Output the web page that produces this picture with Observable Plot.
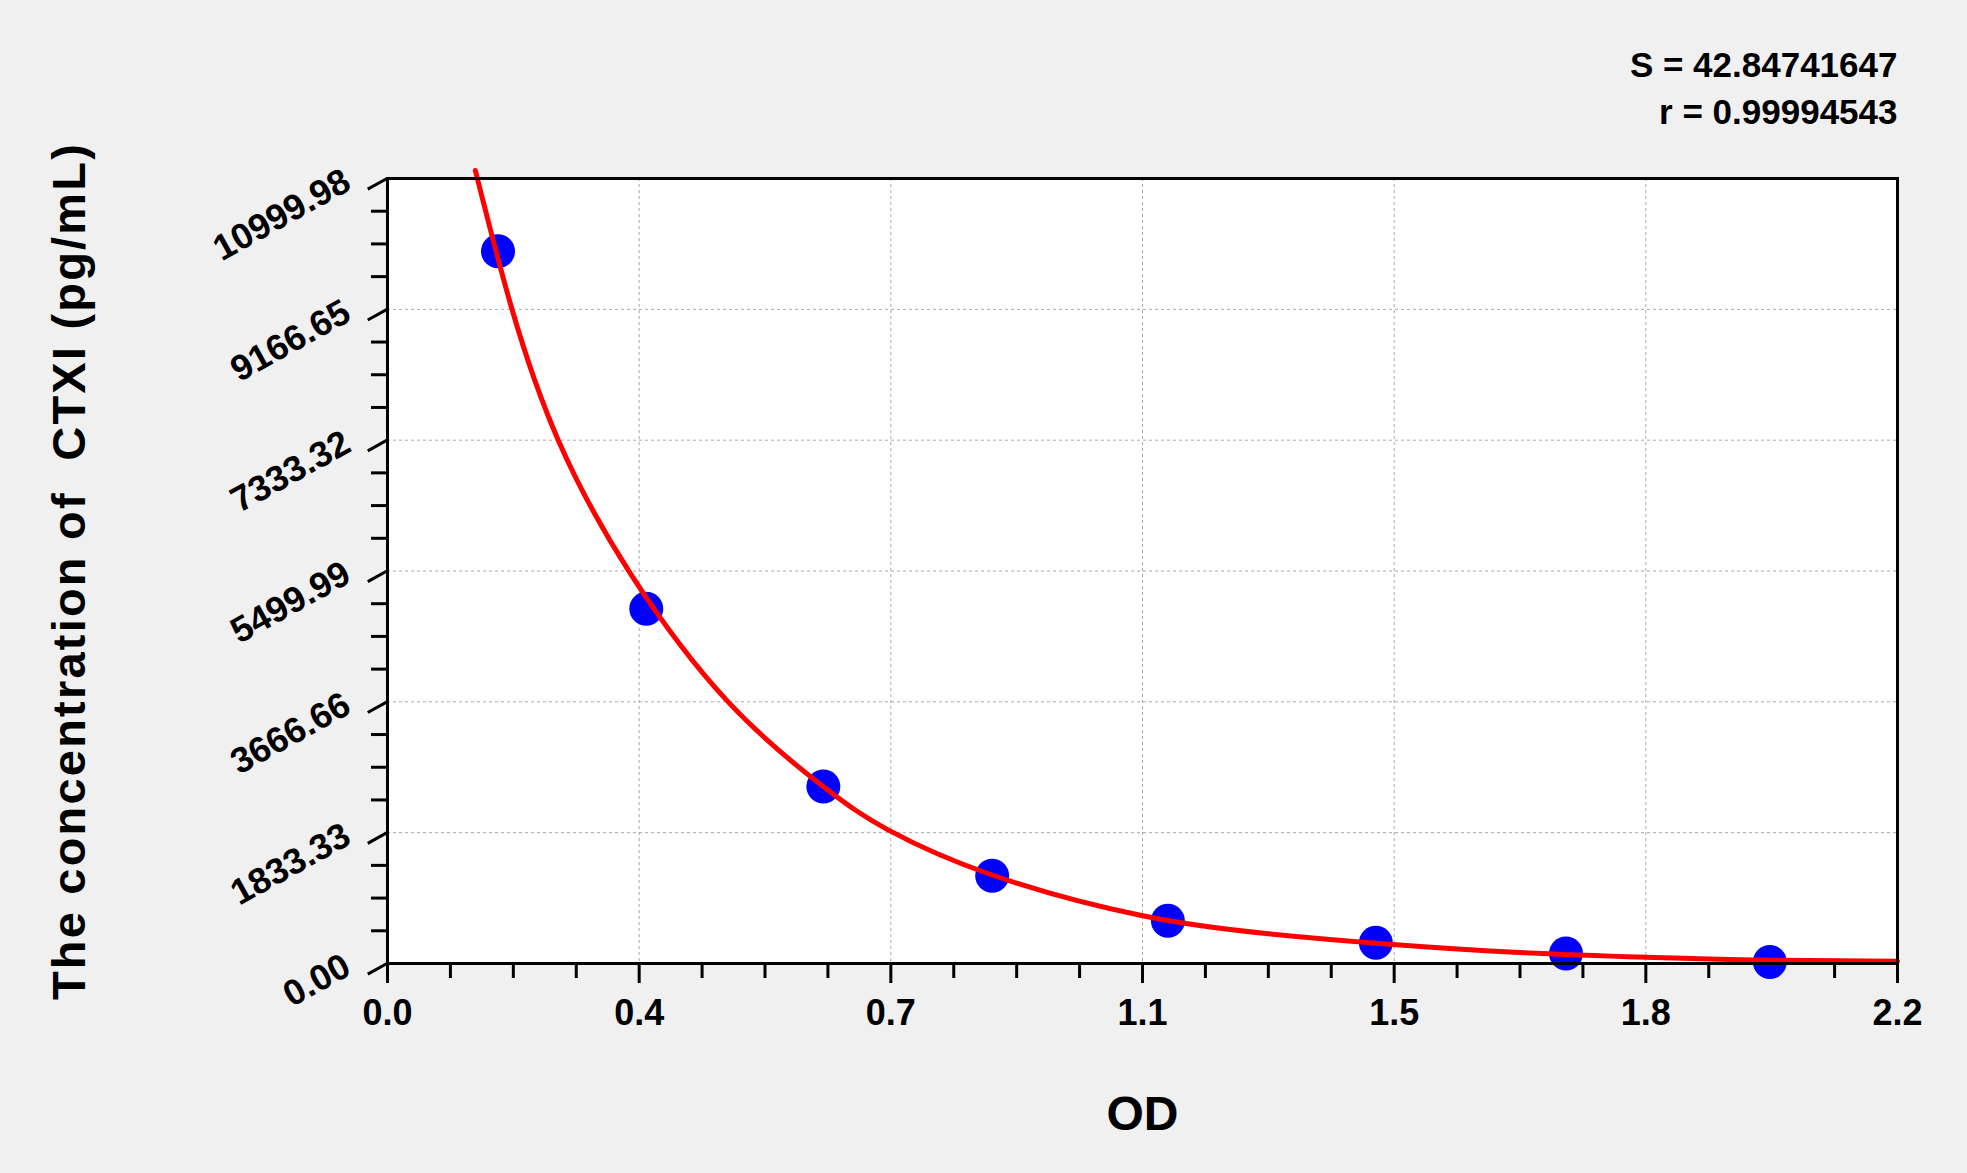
<!DOCTYPE html>
<html>
<head>
<meta charset="utf-8">
<script src="https://cdn.jsdelivr.net/npm/d3@7"></script>
<script src="https://cdn.jsdelivr.net/npm/@observablehq/plot@0.6"></script>
<style>
  html, body { margin: 0; padding: 0; background: #f0f0f0; }
  #chart { width: 1967px; height: 1173px; }
  .ytitle text { letter-spacing: 2.2px; }
</style>
</head>
<body>
<div id="chart"></div>
<script>
// Standard points (OD vs concentration)
const pointOD   = [0.161, 0.377, 0.635, 0.881, 1.137, 1.440, 1.717, 2.014];
const pointConc = [9980, 4970, 2480, 1230, 600, 290, 140, 20];

// Fitted curve
const curveOD   = [0.128, 0.1816, 0.2496, 0.354, 0.4973, 0.6348, 0.728, 0.881, 1.0985, 1.284, 1.465, 1.641, 1.833, 2.014, 2.2];
const curveConc = [11112, 9160, 7315, 5464, 3656, 2480, 1880, 1240, 672, 416, 266, 158, 88, 45, 30];

// Axis ticks and labels
const xTicks      = [0, 0.36667, 0.73333, 1.1, 1.46667, 1.83333, 2.2];
const xTickLabels = ["0.0", "0.4", "0.7", "1.1", "1.5", "1.8", "2.2"];
const yTicks      = [0, 1833.33, 3666.66, 5499.99, 7333.32, 9166.65, 10999.98];
const yTickLabels = ["0.00", "1833.33", "3666.66", "5499.99", "7333.32", "9166.65", "10999.98"];

const statsLines = ["S = 42.84741647", "r = 0.99994543"];
const xTitle = "OD";
const yTitle = "The concentration of  CTXI (pg/mL)";

const points = pointOD.map((x, i) => ({x, y: pointConc[i]}));
const curve = curveOD.map((x, i) => ({x, y: curveConc[i]}));

const xMinor = d3.range(0, 24).map(i => i * 2.2 / 24).filter((d, i) => i % 4 !== 0);
const yMinor = d3.range(0, 24).map(i => i * 10999.98 / 24).filter((d, i) => i % 4 !== 0);

const xLabelMap = new Map(xTicks.map((d, i) => [d, xTickLabels[i]]));
const yLabelMap = new Map(yTicks.map((d, i) => [d, yTickLabels[i]]));

const font = "'Liberation Sans', Arial, sans-serif";

const chart = Plot.plot({
  width: 1967,
  height: 1173,
  marginLeft: 387,
  marginRight: 70,
  marginTop: 178,
  marginBottom: 210,
  style: {background: "#f0f0f0", fontFamily: font, overflow: "visible"},
  x: {domain: [0, 2.2]},
  y: {domain: [0, 10999.98]},
  marks: [
    Plot.frame({fill: "white", stroke: null}),
    Plot.gridX(xTicks, {stroke: "#a8a8a8", strokeOpacity: 1, strokeWidth: 1, strokeDasharray: "3,3"}),
    Plot.gridY(yTicks, {stroke: "#a8a8a8", strokeOpacity: 1, strokeWidth: 1, strokeDasharray: "3,3"}),
    Plot.axisX(xMinor, {tickSize: 15, strokeWidth: 3, stroke: "black", tickFormat: () => "", label: null}),
    Plot.axisY(yMinor, {tickSize: 16, strokeWidth: 3, stroke: "black", tickFormat: () => "", label: null}),
    Plot.axisX(xTicks, {tickSize: 20, tickPadding: 16, strokeWidth: 3, stroke: "black", fill: "black",
      tickFormat: d => xLabelMap.get(d), fontSize: 36, fontWeight: "bold", label: null}),
    Plot.axisY(yTicks, {tickSize: 22, tickPadding: 18, strokeWidth: 3, stroke: "black", fill: "black",
      tickFormat: d => yLabelMap.get(d), fontSize: 36, fontWeight: "bold", rotate: -29,
      textAnchor: "end", lineAnchor: "middle", label: null}),
    Plot.dot(points, {x: "x", y: "y", r: 17, fill: "#0000ff", stroke: null}),
    Plot.line(curve, {x: "x", y: "y", stroke: "#ff0000", strokeWidth: 5, curve: "natural"}),
    Plot.frame({stroke: "black", strokeWidth: 3}),
    Plot.text([statsLines[0]], {frameAnchor: "top-right", dy: -113, textAnchor: "end", lineAnchor: "middle", fontSize: 35, fontWeight: "bold", fill: "black"}),
    Plot.text([statsLines[1]], {frameAnchor: "top-right", dy: -66, textAnchor: "end", lineAnchor: "middle", fontSize: 35, fontWeight: "bold", fill: "black"}),
    Plot.text([xTitle], {frameAnchor: "bottom", dy: 151, lineAnchor: "middle", fontSize: 48, fontWeight: "bold", fill: "black"}),
    Plot.text([yTitle], {frameAnchor: "left", dx: -318, dy: 0, rotate: -90, textAnchor: "middle", lineAnchor: "middle", fontSize: 47, fontWeight: "bold", fill: "black", className: "ytitle"})
  ]
});
document.getElementById("chart").appendChild(chart);
</script>
</body>
</html>
